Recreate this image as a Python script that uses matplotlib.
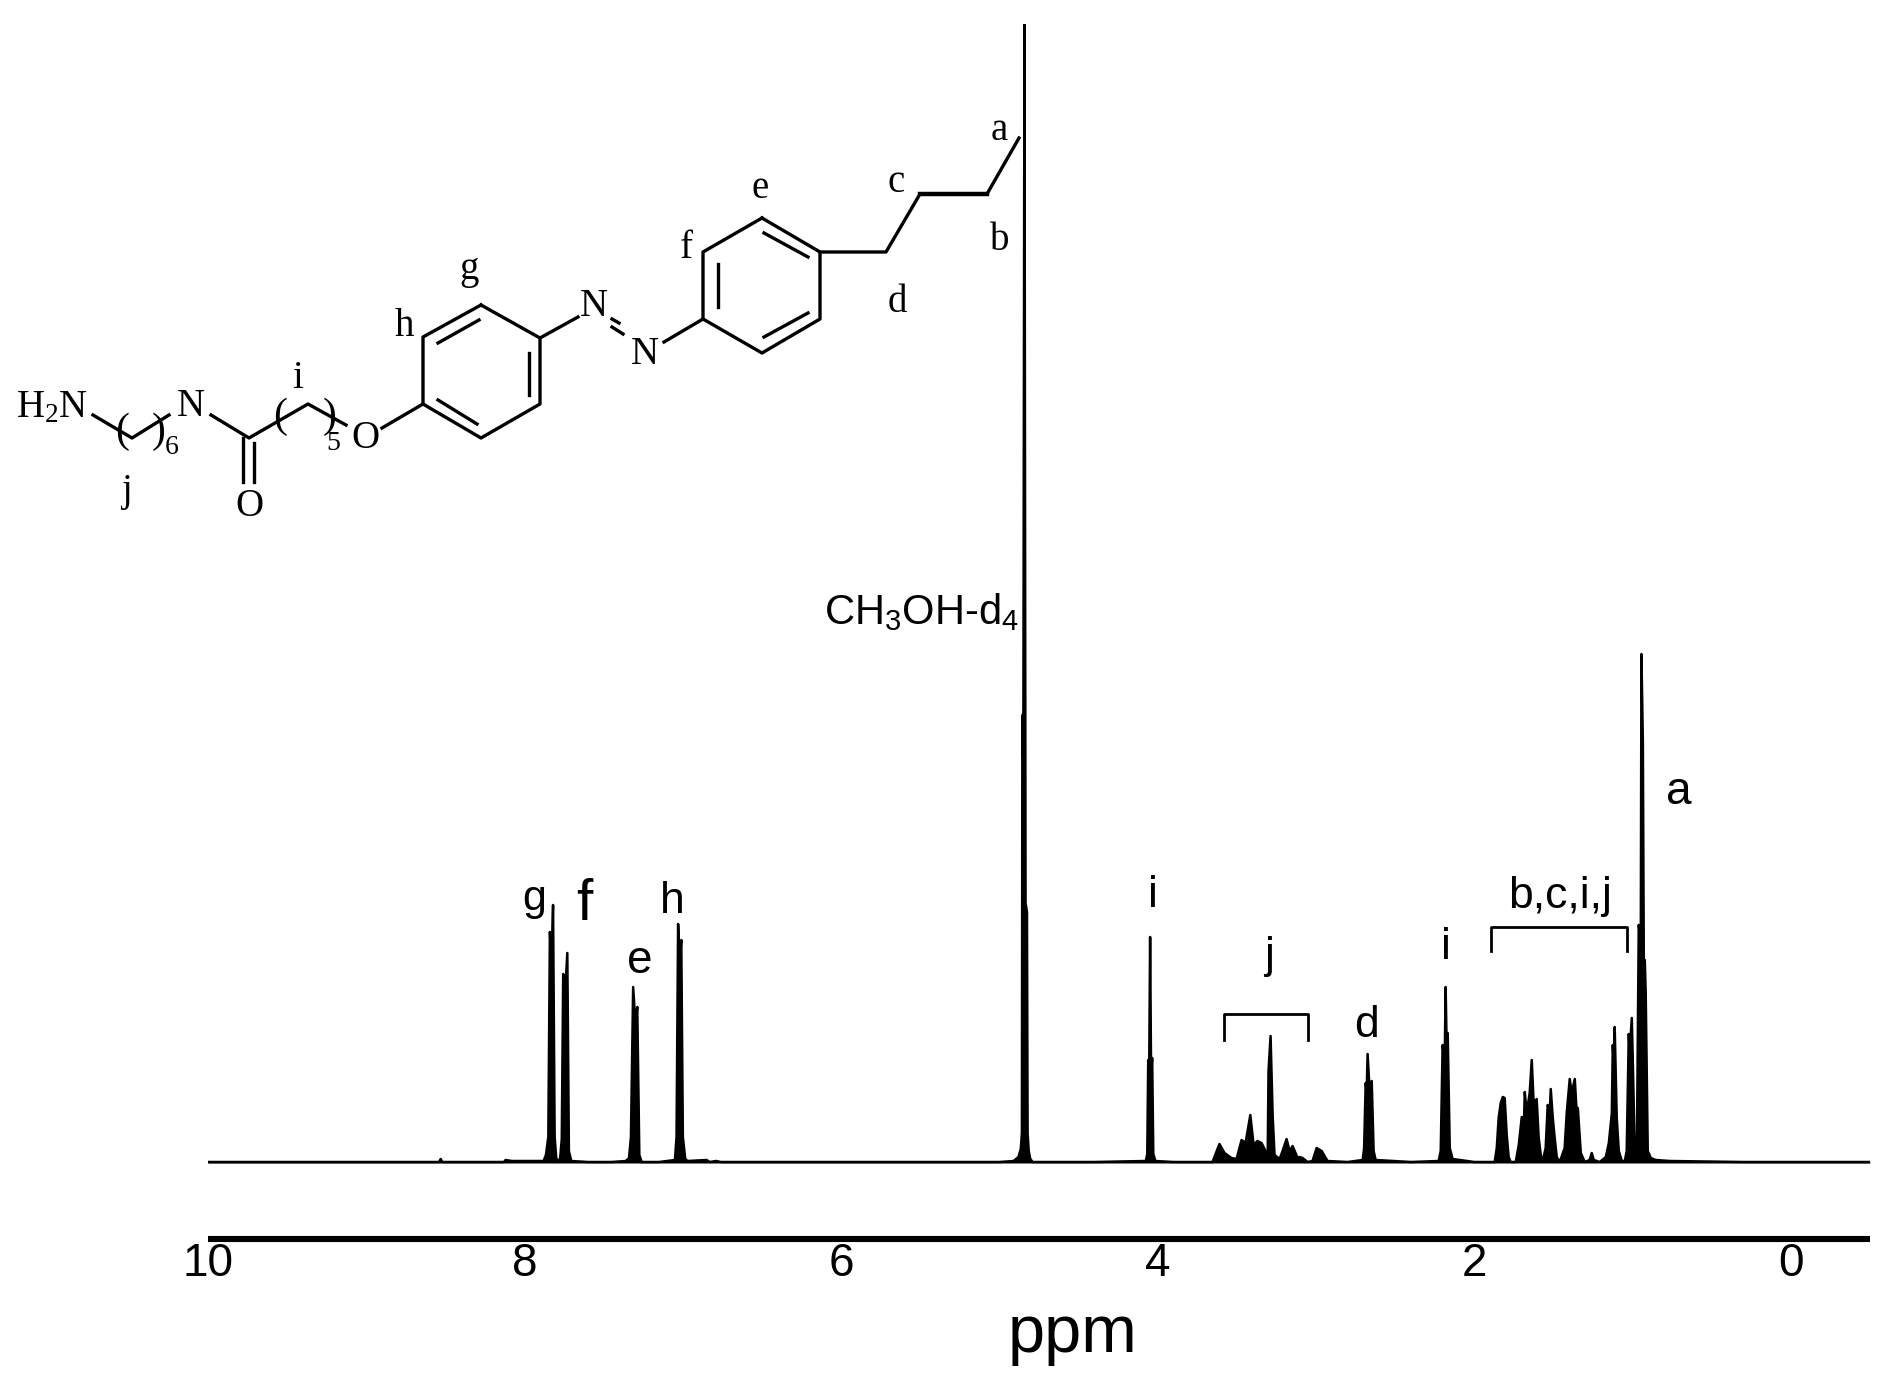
import matplotlib
matplotlib.use("Agg")
import matplotlib.pyplot as plt

plt.rcParams['font.family'] = ['Liberation Sans', 'DejaVu Sans']
plt.rcParams['mathtext.default'] = 'regular'

# Spectrum trace, one row per group of peaks
ppm = [
    10.0, 9.0, 8.54, 8.53, 8.52, 8.13, 8.12, 8.08, 8.0, 7.93, 7.9,
    7.88, 7.865, 7.85, 7.84, 7.83, 7.82, 7.81, 7.80, 7.785, 7.775, 7.765, 7.756, 7.745, 7.73, 7.72, 7.705,
    7.6, 7.45, 7.36, 7.34, 7.328, 7.314, 7.30, 7.288, 7.275, 7.26, 7.15, 7.1,
    7.05, 7.04, 7.03, 7.02, 7.01, 7.0, 6.985, 6.97, 6.85, 6.83, 6.79, 6.76, 6.6, 5.5, 5.0,
    4.91, 4.88, 4.865, 4.858, 4.855, 4.849, 4.842, 4.835, 4.826, 4.822, 4.815, 4.805, 4.79, 4.4,
    4.075, 4.066, 4.06, 4.054, 4.048, 4.042, 4.035, 4.028, 4.015, 3.9,
    3.654, 3.61, 3.578, 3.534, 3.502, 3.47, 3.445, 3.415, 3.394, 3.37, 3.344, 3.319, 3.305, 3.30, 3.287, 3.274, 3.262,
    3.23, 3.211, 3.186, 3.167, 3.148, 3.116, 3.104, 3.085, 3.053, 3.022, 2.996, 2.964, 2.927, 2.8,
    2.705, 2.696, 2.686, 2.68, 2.674, 2.661, 2.648, 2.636, 2.623, 2.4,
    2.225, 2.212, 2.2, 2.187, 2.181, 2.174, 2.168, 2.155, 2.137, 2.0,
    1.871, 1.858, 1.846, 1.833, 1.82, 1.808, 1.795, 1.783, 1.77, 1.738,
    1.719, 1.70, 1.687, 1.681, 1.669, 1.65, 1.637, 1.625, 1.606, 1.593, 1.58, 1.568,
    1.549, 1.536, 1.523, 1.517, 1.504, 1.492, 1.479, 1.46,
    1.429, 1.416, 1.397, 1.384, 1.365, 1.353, 1.346, 1.327, 1.302, 1.271, 1.258, 1.245, 1.207,
    1.169, 1.15, 1.131, 1.125, 1.119, 1.113, 1.10, 1.087, 1.068, 1.049,
    1.037, 1.024, 1.018, 1.005, 0.999, 0.986, 0.973,
    0.961, 0.948, 0.944, 0.935, 0.929, 0.923, 0.917, 0.904, 0.885, 0.853, 0.765, 0.3, -0.5,
]
intensity = [
    1, 1, 1, 4, 1, 1, 3, 2, 2, 2, 2,
    2, 8, 26, 231, 200, 258, 26, 5, 1, 5, 24, 189, 165, 210, 12, 2,
    1, 1, 2, 5, 26, 176, 140, 156, 8, 1, 1, 2,
    3, 26, 239, 200, 223, 26, 4, 2, 3, 1, 2, 1, 1, 1, 1,
    2, 6, 14, 30, 448, 400, 1139, 260, 251, 30, 12, 4, 1, 1,
    2, 9, 103, 90, 226, 90, 105, 9, 2, 1,
    1, 19, 10, 5, 4, 23, 20, 48, 18, 22, 20, 12, 10, 92, 127, 48, 8,
    4, 12, 24, 12, 17, 5, 6, 5, 1, 2, 15, 12, 2, 1,
    3, 15, 80, 70, 109, 72, 82, 12, 3, 1,
    2, 12, 118, 100, 176, 110, 130, 15, 4, 1,
    1, 15, 45, 60, 66, 65, 28, 6, 1, 1,
    18, 46, 35, 71, 50, 70, 103, 60, 64, 25, 8, 2,
    15, 58, 50, 74, 45, 25, 6, 1,
    15, 50, 84, 70, 84, 50, 55, 10, 1, 3, 10, 3, 1,
    6, 20, 50, 118, 100, 136, 45, 12, 2, 2,
    12, 129, 110, 145, 105, 10, 10,
    238, 220, 509, 421, 200, 203, 170, 12, 5, 3, 2, 1, 1,
]
ppm_ticks = [10, 8, 6, 4, 2, 0]

# Peak assignment labels: text, x, baseline y, font size
peak_labels = [
    ('g', 534, 910, 31), ('f', 584, 920, 42), ('e', 640, 973, 33), ('h', 672, 913, 32),
    ('i', 1153, 907, 32), ('j', 1269, 968, 32), ('d', 1367, 1037, 32), ('i', 1446, 959, 32),
    ('b,c,i,j', 1560, 908, 32), ('a', 1679, 804, 33),
]
brackets = [(1224, 1308, 1014, 1040), (1491, 1627, 927, 951)]

# Structure drawing, pixel paths
bond_paths = [
    [(762, 218), (820, 252), (820, 319), (762, 353), (703, 319), (703, 252), (762, 218)],
    [(820, 252), (886, 252), (920, 194), (987, 194), (1019, 138)],
    [(764, 233), (808, 257)], [(764, 337), (808, 313)], [(718, 264), (718, 307)],
    [(703, 319), (664, 342)], [(612, 319), (619, 323)], [(612, 327), (623, 334)],
    [(481, 305), (540, 338), (540, 404), (481, 438), (423, 404), (423, 337), (481, 305)],
    [(540, 338), (578, 317)],
    [(438, 343), (479, 320)], [(529, 353), (529, 395)], [(438, 400), (477, 424)],
    [(423, 404), (382, 428)],
    [(346, 425), (308, 404), (249, 438), (211, 415)],
    [(169, 415), (132, 438), (93, 415)],
    [(243, 438), (243, 482)], [(254, 443), (254, 482)],
]
heavy_bond = [(920, 194), (987, 194)]
atom_labels = [
    ('N', 594, 306, 28), ('N', 645, 354, 28), ('O', 365, 439, 28), ('N', 191, 406, 28),
    ('H$_2$N', 52, 408, 28), ('O', 249, 506, 28),
    ('(', 280, 417, 30), (')', 330, 417, 30), ('(', 122, 432, 30), (')', 159, 432, 30),
    ('5', 333, 443, 20), ('6', 172, 447, 20),
    ('a', 999, 130, 28), ('b', 1000, 240, 28), ('c', 896, 182, 28), ('d', 897, 302, 28),
    ('e', 760, 189, 28), ('f', 686, 248, 28), ('g', 469, 270, 28), ('h', 404, 326, 28),
    ('i', 298, 379, 28), ('j', 126, 491, 28),
]

fig = plt.figure(figsize=(18.95, 13.91), dpi=100)
W, H = 1895, 1391

# Main spectrum axes, peaks print solid black in the reference
ax = fig.add_axes([208 / W, 1 - 1239 / H, 1662 / W, 1215 / H])
ax.fill_between(ppm, intensity, 0, color='black', lw=0)
ax.plot(ppm, intensity, color='black', lw=1.8, solid_joinstyle='round')
ax.set_xlim(10.0, -0.5)
ax.set_ylim(-76, 1139)
ax.set_xticks(ppm_ticks)
ax.set_yticks([])
ax.tick_params(axis='x', length=0, pad=2, labelsize=33)
for side in ['top', 'left', 'right']:
    ax.spines[side].set_visible(False)
ax.spines['bottom'].set_linewidth(4.4)
ax.spines['bottom'].set_capstyle('butt')
ax.set_xlabel('ppm', fontsize=48, labelpad=13, x=0.52)

# Overlay in picture pixels for the annotations and the molecule
over = fig.add_axes([0, 0, 1, 1])
over.set_xlim(0, W)
over.set_ylim(H, 0)
over.axis('off')

for txt, x, y, size in peak_labels:
    over.text(x, y, txt, fontsize=size, ha='center', va='baseline')
over.text(824, 624, 'CH$_3$OH-d$_4$', fontsize=30, ha='left', va='baseline')

for x0, x1, y0, y1 in brackets:
    over.plot([x0, x0, x1, x1], [y1, y0, y0, y1], color='black', lw=2.0)

for path in bond_paths:
    over.plot([p[0] for p in path], [p[1] for p in path], color='black', lw=2.4)
over.plot([p[0] for p in heavy_bond], [p[1] for p in heavy_bond], color='black', lw=3.2)

for txt, x, y, size in atom_labels:
    over.text(x, y, txt, fontsize=size, family='Liberation Serif', ha='center', va='center')

fig.savefig('out.png', dpi=100)
